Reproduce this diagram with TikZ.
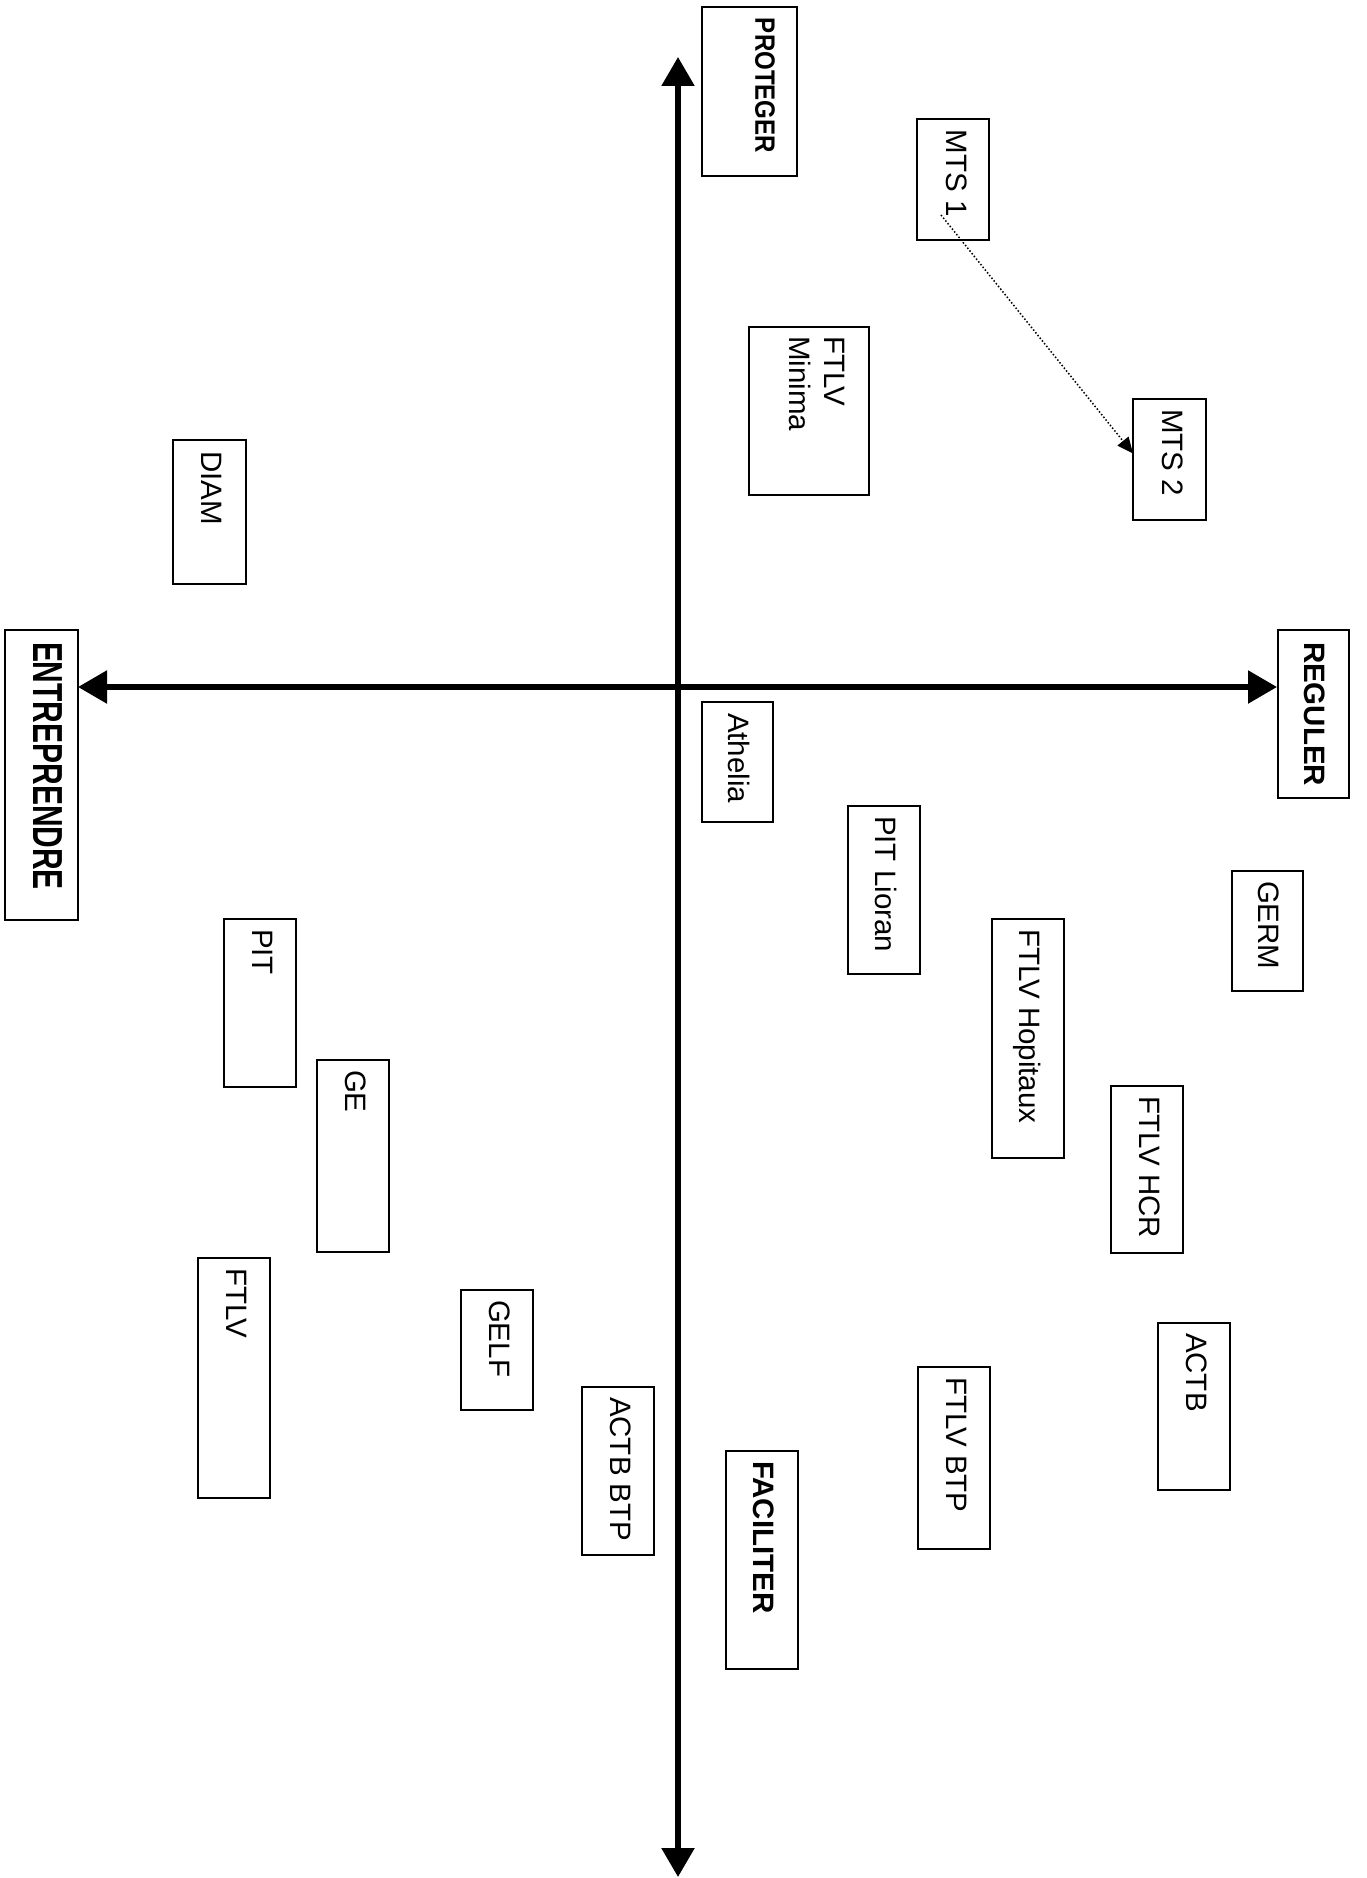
\documentclass[tikz,border=0pt]{standalone}
\usepackage{fontspec}
\setmainfont{Liberation Sans}
\usepackage{graphicx}
\usetikzlibrary{arrows.meta}
% #1 name, #2 x1, #3 y1, #4 x2, #5 y2, #6 dx, #7 dy, #8 text style, #9 text
\newcommand\tbox[9]{%
  \node[box, minimum width={#4-#2}, minimum height={#5-#3}] (#1) at ({(#2+#4)/2},{(#3+#5)/2}) {};
  \node[lbl, #8] (#1-t) at ([xshift=#6pt,yshift=#7pt]#1.north east) {#9};
}
\tikzset{
  box/.style={draw, line width=2pt, inner sep=0pt, outer sep=0pt},
  lbl/.style={rotate=-90, anchor=north west, inner sep=0pt, outer sep=0pt, align=left},
  reg/.style={font=\fontsize{29.5}{35}\selectfont},
  bld/.style={font=\bfseries\fontsize{29.5}{35}\selectfont},
  bldbig/.style={font=\bfseries\fontsize{42}{48}\selectfont},
  bldmid/.style={font=\bfseries\fontsize{28}{33}\selectfont},
  axis/.style={line width=5.5pt, {Triangle[length=29pt,width=32pt]}-{Triangle[length=29pt,width=32pt]}},
  dotarrow/.style={line width=1.5pt, dash pattern=on 1.5pt off 2pt, -{Triangle[length=16pt,width=14pt]}}
}
\begin{document}
\begin{tikzpicture}[x=1pt,y=-1pt]
\useasboundingbox (0,0) rectangle (1367,1878);
% axes
\coordinate (axL) at (78,687);
\coordinate (axR) at (1277,687);
\coordinate (axT) at (678,57);
\coordinate (axB) at (678,1877);
\draw[axis] (axL) -- (axR);
\draw[axis] (axT) -- (axB);
% pole labels
\tbox{prot}{702}{7}{797}{176}{-22}{-11}{bldmid}{\scalebox{0.86}[1]{PROTEGER}}
\tbox{entre}{5}{630}{78}{920}{-16}{-12}{bldbig}{\scalebox{0.713}[1]{ENTREPRENDRE}}
\tbox{regul}{1278}{630}{1349}{798}{-24}{-12}{bld}{REGULER}
\tbox{facil}{726}{1451}{798}{1669}{-24}{-10}{bld}{FACILITER}
% items
\tbox{mtsa}{917}{119}{989}{240}{-22}{-11}{reg}{MTS 1}
\tbox{mtsb}{1133}{399}{1206}{520}{-23}{-10}{reg}{MTS 2}
\tbox{ftlvmin}{749}{327}{869}{495}{-24}{-9}{reg}{FTLV\\Minima}
\tbox{diam}{173}{440}{246}{584}{-24}{-11}{reg}{DIAM}
\tbox{athelia}{702}{702}{773}{822}{-23}{-11}{reg}{Athelia}
\tbox{pitlioran}{848}{806}{920}{974}{-23}{-10}{reg}{PIT Lioran}
\tbox{germ}{1232}{871}{1303}{991}{-24}{-10}{reg}{GERM}
\tbox{ftlvhop}{992}{919}{1064}{1158}{-23}{-10}{reg}{FTLV Hopitaux}
\tbox{ftlvhcr}{1111}{1086}{1183}{1253}{-23}{-10}{reg}{FTLV HCR}
\tbox{actb}{1158}{1323}{1230}{1490}{-23}{-10}{reg}{ACTB}
\tbox{ftlvbtp}{918}{1367}{990}{1549}{-23}{-10}{reg}{FTLV BTP}
\tbox{actbbtp}{582}{1387}{654}{1555}{-23}{-10}{reg}{ACTB BTP}
\tbox{gelf}{461}{1290}{533}{1410}{-23}{-10}{reg}{GELF}
\tbox{ftlv}{198}{1258}{270}{1498}{-23}{-10}{reg}{FTLV}
\tbox{ge}{317}{1060}{389}{1252}{-23}{-10}{reg}{GE}
\tbox{pit}{224}{919}{296}{1087}{-23}{-10}{reg}{PIT}
% dotted connector MTS 1 -> MTS 2
\coordinate (mtsa-s) at (941,215);
\draw[dotarrow] (mtsa-s) -- ([yshift=6pt]mtsb.west);
\end{tikzpicture}
\end{document}
